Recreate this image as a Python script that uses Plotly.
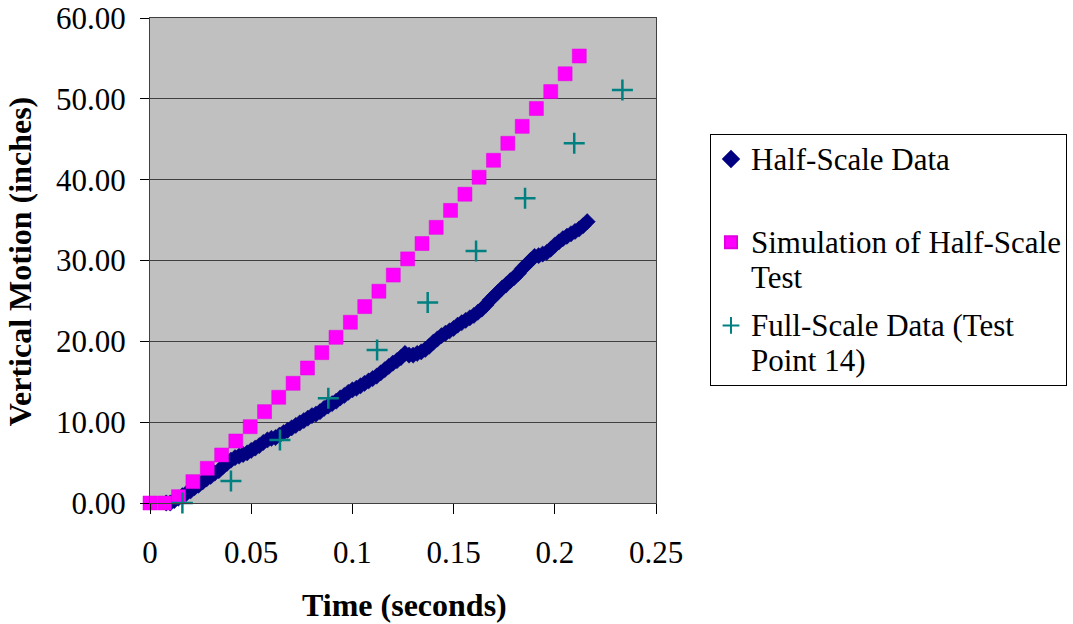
import plotly.graph_objects as go

# ---------------- data ----------------
half_t = [0.008, 0.010, 0.012, 0.014, 0.016, 0.018, 0.020, 0.022, 0.024, 0.026,
          0.028, 0.030, 0.032, 0.034, 0.036, 0.038, 0.040, 0.042, 0.044, 0.046,
          0.048, 0.050, 0.052, 0.054, 0.056, 0.058, 0.060, 0.062, 0.064, 0.066,
          0.068, 0.070, 0.072, 0.074, 0.076, 0.078, 0.080, 0.082, 0.084, 0.086,
          0.088, 0.090, 0.092, 0.094, 0.096, 0.098, 0.100, 0.102, 0.104, 0.106,
          0.108, 0.110, 0.112, 0.114, 0.116, 0.118, 0.120, 0.122, 0.124, 0.126,
          0.128, 0.130, 0.132, 0.134, 0.136, 0.138, 0.140, 0.142, 0.144, 0.146,
          0.148, 0.150, 0.152, 0.154, 0.156, 0.158, 0.160, 0.162, 0.164, 0.166,
          0.168, 0.170, 0.172, 0.174, 0.176, 0.178, 0.180, 0.182, 0.184, 0.186,
          0.188, 0.190, 0.192, 0.194, 0.196, 0.198, 0.200, 0.202, 0.204, 0.206,
          0.208, 0.210, 0.212, 0.214, 0.216]
half_y = [0.0, 0.0, 0.3, 0.6, 0.9, 1.2, 1.5, 1.9, 2.2, 2.6,
          3.0, 3.3, 3.7, 4.0, 4.5, 4.9, 5.3, 5.6, 5.8, 6.0,
          6.2, 6.5, 6.8, 7.1, 7.5, 7.8, 8.0, 8.1, 8.4, 8.7,
          9.0, 9.3, 9.6, 9.9, 10.2, 10.5, 10.8, 11.0, 11.3, 11.7,
          12.0, 12.3, 12.6, 13.0, 13.3, 13.7, 14.0, 14.2, 14.5, 14.8,
          15.1, 15.4, 15.7, 16.1, 16.5, 16.9, 17.3, 17.6, 18.0, 18.5,
          18.3, 18.3, 18.5, 18.7, 19.0, 19.4, 19.9, 20.3, 20.7, 21.0,
          21.3, 21.6, 22.0, 22.3, 22.6, 22.9, 23.2, 23.6, 24.0, 24.5,
          25.1, 25.6, 26.1, 26.6, 27.0, 27.5, 27.9, 28.4, 29.0, 29.5,
          30.0, 30.5, 30.6, 30.8, 31.0, 31.4, 31.9, 32.3, 32.7, 33.0,
          33.3, 33.6, 33.9, 34.3, 34.8]

sim_t = [0.0, 0.0071, 0.0141, 0.0212, 0.0283, 0.0354, 0.0424, 0.0495, 0.0566, 0.0636,
         0.0707, 0.0778, 0.0849, 0.0919, 0.0990, 0.1061, 0.1131, 0.1202, 0.1273, 0.1344,
         0.1414, 0.1485, 0.1556, 0.1626, 0.1697, 0.1768, 0.1839, 0.1909, 0.1980, 0.2051,
         0.2121]
sim_y = [0.0, 0.0, 0.78, 2.64, 4.29, 5.94, 7.67, 9.44, 11.3, 13.08,
         14.81, 16.7, 18.6, 20.5, 22.36, 24.3, 26.2, 28.2, 30.2, 32.1,
         34.1, 36.2, 38.2, 40.3, 42.4, 44.5, 46.6, 48.8, 50.9, 53.1,
         55.3]

full_t = [0.0160, 0.0400, 0.0642, 0.0881, 0.1122, 0.1372, 0.1611, 0.1853, 0.2096, 0.2334]
full_y = [0.0, 2.72, 7.8, 12.96, 18.94, 24.79, 31.19, 37.7, 44.5, 51.1]

x_ticks = [0, 0.05, 0.1, 0.15, 0.2, 0.25]
x_tick_labels = ["0", "0.05", "0.1", "0.15", "0.2", "0.25"]
y_ticks = [0, 10, 20, 30, 40, 50, 60]
y_tick_labels = ["0.00", "10.00", "20.00", "30.00", "40.00", "50.00", "60.00"]

series_lines = [["Half-Scale Data", " "],
                ["Simulation of Half-Scale", "Test"],
                ["Full-Scale Data (Test", "Point 14)"]]
x_title = "Time (seconds)"
y_title = "Vertical Motion (inches)"

FONT = "Liberation Serif, Times New Roman, serif"


def legend_name(lines):
    return "<br>".join('<span style="font-size:31px">%s</span>' % ln for ln in lines)


fig = go.Figure()
fig.add_trace(go.Scatter(
    x=half_t, y=half_y, mode="markers", name=legend_name(series_lines[0]),
    legendgroup="g1", cliponaxis=False,
    marker=dict(symbol="diamond", size=12.5, color="#000080",
                line=dict(width=0.5, color="#000080"))))
fig.add_trace(go.Scatter(
    x=sim_t, y=sim_y, mode="markers", name=legend_name(series_lines[1]),
    legendgroup="g2", cliponaxis=False,
    marker=dict(symbol="square", size=14, color="#FF00FF",
                line=dict(width=0.5, color="#E000E0"))))
fig.add_trace(go.Scatter(
    x=full_t, y=full_y, mode="markers", name=legend_name(series_lines[2]),
    legendgroup="g3", cliponaxis=False,
    marker=dict(symbol="cross-thin", size=15, color="#008080",
                line=dict(width=2.5, color="#008080"))))

fig.update_layout(
    width=1073, height=624,
    margin=dict(l=150, r=417, t=18, b=121, autoexpand=False),
    paper_bgcolor="white",
    plot_bgcolor="#C0C0C0",
    font=dict(family=FONT, size=30, color="black"),
    showlegend=True,
    legend=dict(
        x=(710 - 150) / 506, y=(503 - 134) / 485, xanchor="left", yanchor="top",
        bgcolor="white", bordercolor="black", borderwidth=1,
        font=dict(family=FONT, size=27, color="black"),
        valign="top", itemsizing="constant", tracegroupgap=10,
        groupclick="toggleitem",
    ),
    xaxis=dict(
        range=[0, 0.25], tickvals=x_ticks, ticktext=x_tick_labels,
        showgrid=False, zeroline=False, automargin=False,
        ticks="outside", ticklen=10, tickcolor="black", tickwidth=1,
        ticklabelstandoff=12,
        showline=True, linecolor="#404040", linewidth=1, mirror=True,
        tickfont=dict(family=FONT, size=31, color="black"),
    ),
    yaxis=dict(
        range=[0, 60], tickvals=y_ticks, ticktext=y_tick_labels,
        showgrid=True, gridcolor="#404040", gridwidth=1, zeroline=False,
        automargin=False,
        ticks="outside", ticklen=9, tickcolor="black", tickwidth=1,
        ticklabelstandoff=8,
        showline=True, linecolor="#404040", linewidth=1, mirror=True,
        tickfont=dict(family=FONT, size=31, color="black"),
    ),
    annotations=[
        dict(text="<b>" + x_title + "</b>", xref="paper", yref="paper",
             x=0.502, y=-0.2103, xanchor="center", yanchor="middle",
             showarrow=False, font=dict(family=FONT, size=32, color="black")),
        dict(text="<b>" + y_title + "</b>", xref="paper", yref="paper",
             x=-0.2565, y=0.497, xanchor="center", yanchor="middle",
             textangle=-90, showarrow=False,
             font=dict(family=FONT, size=32, color="black")),
    ],
)

fig.write_html("out.html")
